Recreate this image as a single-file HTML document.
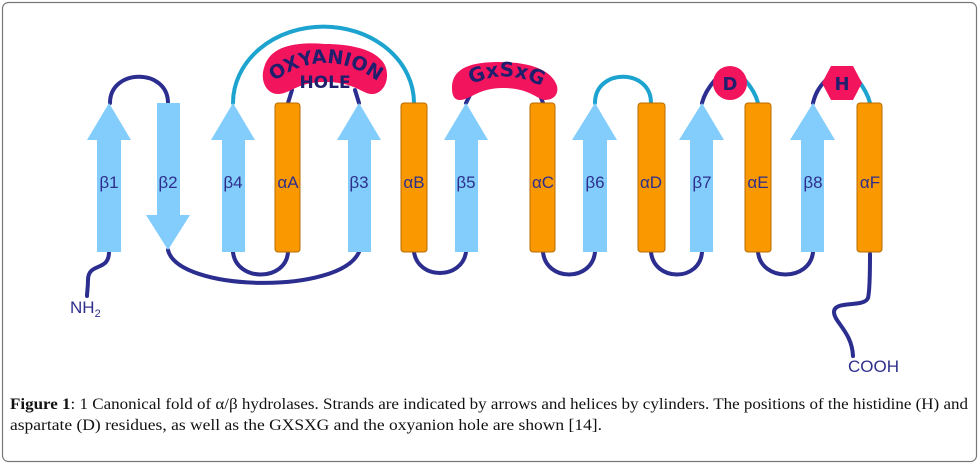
<!DOCTYPE html>
<html><head><meta charset="utf-8"><style>
body{margin:0;background:#fff;width:980px;height:467px;overflow:hidden}
svg{position:absolute;left:0;top:0}
.lb{font-family:"Liberation Sans",sans-serif;font-size:17px;fill:#2e2f8c}
.cap{font-family:"Liberation Serif",serif;font-size:16px;fill:#111}
</style></head><body>
<svg width="980" height="467" viewBox="0 0 980 467">
<rect x="2.5" y="2.5" width="974" height="459" rx="6" fill="none" stroke="#777" stroke-width="1.2"/>
<g fill="none" stroke-width="4" stroke-linecap="round">
<g stroke="#2b2d8f">
<path d="M109,252 C109,272 88,262 88,280 C88,288 87,292 87,296"/>
<path d="M110,103 C110,68 168,68 168,103"/>
<path d="M168,250 C178,292 340,295 359,252"/>
<path d="M233,252 C236,282 286,282 288,252"/>
<path d="M414,252 C418,280 462,280 466,252"/>
<path d="M543,252 C546,282 592,282 595,252"/>
<path d="M651,252 C654,282 700,282 702,252"/>
<path d="M758,252 C761,282 810,282 813,252"/>
<path d="M870,254 C870,270 870,290 868,298 C864,308 834,300 834,312 C834,322 852,332 853,356"/>
<path d="M288,103 L292,90"/><path d="M359,103 L355,90"/>
<path d="M466,103 L470,95"/><path d="M543,103 L540,95"/>
<path d="M702,103 C704,95 708,88 715,80"/>
<path d="M813,103 C815,95 818,88 826,80"/>
</g>
<g stroke="#1ca3cf">
<path d="M233,103 A90 76 0 0 1 414,103"/>
<path d="M595,103 C595,68 651,68 651,103"/>
<path d="M745,80 C752,88 756,95 758,103"/>
<path d="M858,80 C864,88 868,95 870,103"/>
</g>
</g>
<g fill="#82cdfc">
<path d="M97,252 V140 H87 L109,103 L131,140 H121 V252 Z"/>
<path d="M157,103 H180 V215 H190 L168,250 L146,215 H157 Z"/>
<path d="M222,252 V140 H211 L233,103 L255,140 H245 V252 Z"/>
<path d="M348,252 V140 H337 L359,103 L381,140 H371 V252 Z"/>
<path d="M455,252 V140 H444 L466,103 L488,140 H478 V252 Z"/>
<path d="M583,252 V140 H572 L595,103 L617,140 H607 V252 Z"/>
<path d="M690,252 V140 H679 L702,103 L724,140 H713 V252 Z"/>
<path d="M801,252 V140 H790 L813,103 L835,140 H824 V252 Z"/>
</g>
<g fill="#fa9800" stroke="#b86b00" stroke-width="1">
<rect x="275" y="103" width="25" height="149" rx="3"/>
<rect x="401" y="103" width="26" height="149" rx="3"/>
<rect x="530" y="103" width="25" height="149" rx="3"/>
<rect x="638" y="103" width="27" height="149" rx="3"/>
<rect x="745" y="103" width="26" height="149" rx="3"/>
<rect x="857" y="103" width="25" height="149" rx="3"/>
</g>
<path d="M264,68 C270,44 300,42 325,44 C352,44 380,50 386,68 C390,82 382,94 372,94 C362,94 355,82 325,82 C297,82 290,94 278,94 C266,94 260,80 264,68 Z" fill="#f2145c"/>
<path d="M452,88 C452,66 475,62 500,62 C530,62 552,70 557,86 C559,96 552,100 545,100 C538,100 530,88 503,88 C478,88 470,100 460,100 C454,100 452,95 452,88 Z" fill="#f2145c"/>
<circle cx="730" cy="83" r="17" fill="#f2145c"/>
<polygon points="831,66 853,66 862,83 853,100 831,100 822,83" fill="#f2145c"/>
<defs>
<path id="oa" d="M268,86 Q325,40 384,86"/>
<path id="gs" d="M456,94 Q505,58 557,96"/>
</defs>
<g font-family="DejaVu Sans,sans-serif" font-weight="bold" fill="#1f1f6e">
<text font-size="19"><textPath href="#oa" startOffset="50%" text-anchor="middle">OXYANION</textPath></text>
<text x="325" y="88" font-size="17" text-anchor="middle">HOLE</text>
<text font-size="20"><textPath href="#gs" startOffset="50%" text-anchor="middle">GxSxG</textPath></text>
<text x="730" y="90" font-size="18" text-anchor="middle">D</text>
<text x="842" y="90" font-size="18" text-anchor="middle">H</text>
</g>
<g class="lb" text-anchor="middle">
<text x="109" y="188">β1</text><text x="168" y="188">β2</text>
<text x="233" y="188">β4</text><text x="288" y="188">αA</text>
<text x="359" y="188">β3</text><text x="414" y="188">αB</text>
<text x="466" y="188">β5</text><text x="543" y="188">αC</text>
<text x="595" y="188">β6</text><text x="651" y="188">αD</text>
<text x="702" y="188">β7</text><text x="758" y="188">αE</text>
<text x="813" y="188">β8</text><text x="870" y="188">αF</text>
</g>
<text class="lb" x="70" y="313">NH<tspan font-size="11" dy="4">2</tspan></text>
<text class="lb" x="848" y="372">COOH</text>
<text class="cap" x="10" y="409" textLength="958" lengthAdjust="spacingAndGlyphs"><tspan font-weight="bold">Figure 1</tspan>: 1 Canonical fold of α/β hydrolases. Strands are indicated by arrows and helices by cylinders. The positions of the histidine (H) and</text>
<text class="cap" x="10" y="430" textLength="592" lengthAdjust="spacingAndGlyphs">aspartate (D) residues, as well as the GXSXG and the oxyanion hole are shown [14].</text>
</svg>
</body></html>
